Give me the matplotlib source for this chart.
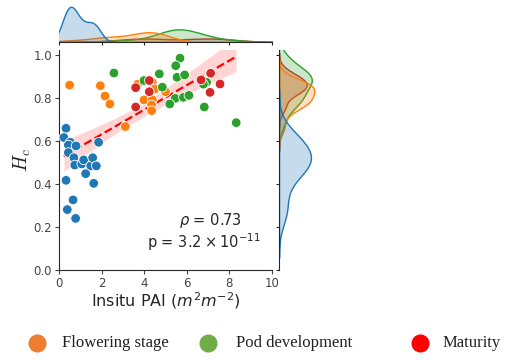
import numpy as np
import pandas as pd
import matplotlib
matplotlib.use("Agg")
import matplotlib.pyplot as plt
from matplotlib.lines import Line2D
from matplotlib.collections import PolyCollection
import seaborn as sns

# ---------------- data ----------------
blue_x = [0.33, 0.23, 0.53, 0.44, 0.80, 0.44, 0.70, 1.86, 0.74, 1.07,
          1.16, 1.49, 1.58, 1.75, 1.25, 1.63, 0.33, 0.66, 0.39, 0.78]
blue_y = [0.659, 0.616, 0.594, 0.581, 0.577, 0.546, 0.522, 0.594, 0.488, 0.493,
          0.512, 0.484, 0.522, 0.484, 0.448, 0.403, 0.417, 0.326, 0.281, 0.240]

flower_x = [0.50, 1.94, 2.16, 2.39, 3.11, 3.69, 4.38, 4.51, 3.99, 4.38,
            4.35, 4.35, 5.00]
flower_y = [0.860, 0.857, 0.809, 0.772, 0.667, 0.864, 0.873, 0.842, 0.791, 0.791,
            0.767, 0.741, 0.829]

pod_x = [2.58, 3.99, 4.71, 4.85, 5.68, 5.48, 5.54, 5.90, 5.46, 5.84,
         6.10, 5.20, 6.93, 6.78, 6.82, 8.32]
pod_y = [0.916, 0.881, 0.912, 0.850, 0.985, 0.950, 0.896, 0.907, 0.798, 0.803,
         0.812, 0.772, 0.873, 0.864, 0.758, 0.685]

mat_x = [3.60, 3.60, 4.24, 4.24, 6.67, 7.12, 7.09, 7.56]
mat_y = [0.848, 0.758, 0.881, 0.829, 0.884, 0.915, 0.826, 0.865]

stages = ["Branching", "Flowering stage", "Pod development", "Maturity"]
palette = ["#1f77b4", "#ff7f0e", "#2ca02c", "#d62728"]
legend_labels = ["Flowering stage", "Pod development", "Maturity"]
legend_colors = ["#ED7D31", "#70AD47", "#FF0000"]

rho_text = r"$\rho$ = 0.73"
p_text = r"p = 3.2 $\times\,10^{-11}$"

df = pd.DataFrame({
    "x": blue_x + flower_x + pod_x + mat_x,
    "y": blue_y + flower_y + pod_y + mat_y,
    "stage": ([stages[0]] * len(blue_x) + [stages[1]] * len(flower_x)
              + [stages[2]] * len(pod_x) + [stages[3]] * len(mat_x)),
})

# ---------------- figure ----------------
sns.set_style("ticks")
plt.rcParams["font.family"] = ["DejaVu Sans"]

W, H = 519, 360
fig = plt.figure(figsize=(W / 100, H / 100), dpi=100)

ax = fig.add_axes([59 / W, 90 / H, 213 / W, 220 / H])
axx = fig.add_axes([59 / W, 318 / H, 213 / W, 37 / H], sharex=ax)
axy = fig.add_axes([279 / W, 90 / H, 37 / W, 220 / H], sharey=ax)

pal = dict(zip(stages, palette))

# regression line with CI band
sns.regplot(data=df, x="x", y="y", ax=ax, scatter=False, color="red",
            seed=0, line_kws=dict(linestyle="--", linewidth=1.6))
for coll in ax.collections:
    if isinstance(coll, PolyCollection):
        coll.set_alpha(0.17)

sns.scatterplot(data=df, x="x", y="y", hue="stage", hue_order=stages,
                palette=pal, ax=ax, s=48, edgecolor="white", linewidth=0.6,
                legend=False, zorder=3)

sns.kdeplot(data=df, x="x", hue="stage", hue_order=stages, palette=pal,
            ax=axx, fill=True, legend=False, warn_singular=False)
sns.kdeplot(data=df, y="y", hue="stage", hue_order=stages, palette=pal,
            ax=axy, fill=True, legend=False, warn_singular=False)

ax.set_xlim(0, 10)
ax.set_ylim(0, 1.023)
ax.set_xticks(np.arange(0, 11, 2))
ax.set_yticks(np.arange(0, 1.01, 0.2))
ax.set_yticklabels([f"{v:.1f}" for v in np.arange(0, 1.01, 0.2)])
ax.tick_params(labelsize=8.5, colors="#444444", length=3, pad=2)
ax.set_xlabel("Insitu PAI ($m^2m^{-2}$)", fontsize=11.5, labelpad=0)
ax.set_ylabel("$H_c$", fontsize=14, math_fontfamily="cm")
ax.yaxis.set_label_coords(-0.12, 0.5)
sns.despine(ax=ax)

axx.set_ylim(bottom=0)
axx.tick_params(labelbottom=False, left=False, labelleft=False, length=2)
axx.set_xlabel("")
axx.set_ylabel("")
sns.despine(ax=axx, left=True)

axy.set_xlim(left=0)
axy.tick_params(labelleft=False, bottom=False, labelbottom=False, length=2)
axy.set_xlabel("")
axy.set_ylabel("")
sns.despine(ax=axy, bottom=True)

ax.text(7.1, 0.228, rho_text, ha="center", va="center", fontsize=10.5)
ax.text(6.8, 0.13, p_text, ha="center", va="center", fontsize=10.5)

# custom legend at the bottom
marker_x = [37, 208, 420]
text_x = [62, 236, 443]
ly = (H - 343) / H
for mx, tx, lab, col in zip(marker_x, text_x, legend_labels, legend_colors):
    fig.add_artist(Line2D([mx / W], [ly], transform=fig.transFigure,
                          marker="o", markersize=12, color=col,
                          markeredgecolor=col, linestyle="none"))
    fig.text(tx / W, ly, lab, ha="left", va="center", fontsize=12,
             family="Liberation Serif", color="#222222")

fig.savefig("out.png", dpi=100)
